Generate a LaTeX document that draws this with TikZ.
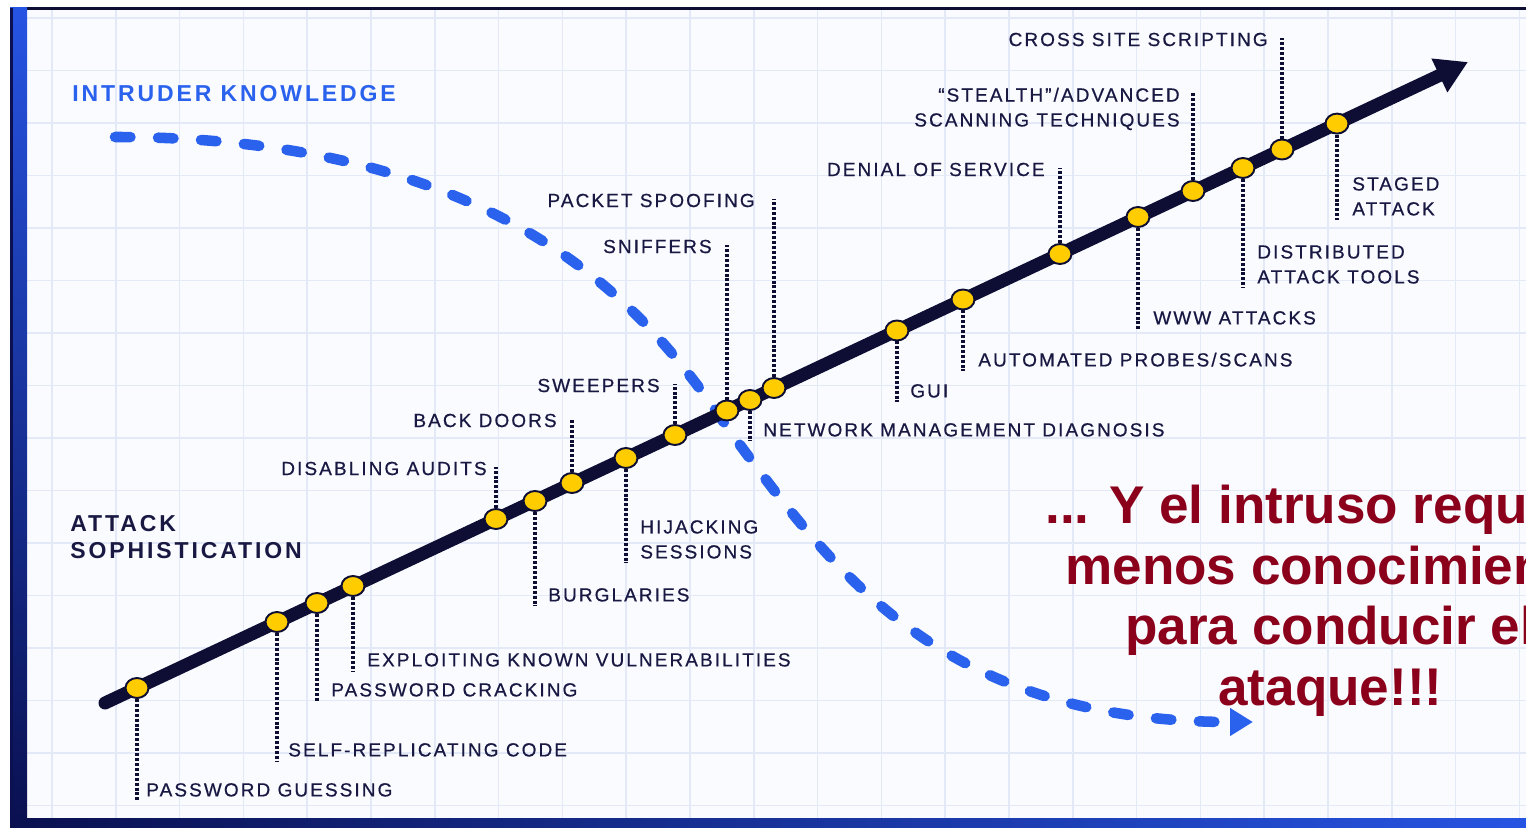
\documentclass[tikz,border=0pt]{standalone}
\usepackage{fontspec}
\setmainfont{Liberation Sans}
\newfontfamily\lblfont[LetterSpace=11, FakeBold=0.6]{Liberation Sans}
\newfontfamily\headfont[LetterSpace=12.5]{Liberation Sans}
\usetikzlibrary{arrows.meta, shapes.geometric}

\definecolor{lineink}{RGB}{14,14,52}
\definecolor{textink}{RGB}{24,24,66}
\definecolor{knowblue}{RGB}{42,98,238}
\definecolor{dotgold}{RGB}{255,204,0}
\definecolor{msgred}{RGB}{139,0,26}
\definecolor{paper}{RGB}{250,251,255}
\definecolor{gridcol}{RGB}{228,233,247}
\definecolor{barblue}{RGB}{38,84,226}
\definecolor{barnavy}{RGB}{10,16,80}

\begin{document}
\begin{tikzpicture}[x=0.02cm, y=-0.02cm,
  lbl/.style={font={\lblfont\fontsize{10.8}{14.2}\selectfont}, text=textink, inner xsep=0pt, inner ysep=2.3pt},
  event/.style={ellipse, draw=lineink, line width=1.1pt, fill=dotgold, minimum width=0.46cm, minimum height=0.4cm, inner sep=0pt},
  leader/.style={draw=lineink, line width=2pt, dash pattern=on 1.7pt off 1.1pt},
  upleader/.style={leader, shorten >=5.5pt},
  axisline/.style={draw=lineink, line width=7.4pt, line cap=round, -{Triangle[length=18pt, width=20pt]}},
  knowcurve/.style={draw=knowblue, line width=6pt, line cap=round, dash pattern=on 8.8pt off 15.7pt, -{Triangle[length=13pt, width=15pt]}},
  msg/.style={anchor=base west, inner sep=0pt, text=msgred, font={\bfseries\fontsize{30.2}{34}\selectfont}}]
\useasboundingbox (0,0) rectangle (1526,828);
\clip (0,0) rectangle (1526,828);

% paper, grid and frame
\fill[paper] (27,10) rectangle (1526,818);
\foreach \gx in {0,...,23}
  \draw[gridcol, line width=1pt] ({52+63.8*\gx},10) -- ({52+63.8*\gx},818);
\foreach \gy in {0,...,15}
  \draw[gridcol, line width=1pt] (27,{18+52.5*\gy}) -- (1526,{18+52.5*\gy});
\fill[lineink] (10,7.5) rectangle (1526,10);
\shade[top color=barblue, bottom color=barnavy] (10,8) rectangle (27,828);
\fill[barnavy] (10,8) rectangle (12.5,828);
\shade[left color=barnavy, right color=barblue] (10,818) rectangle (1526,828);

% intruder knowledge
\draw[knowcurve] (115,137) .. controls (560,137) and (680,364) .. (740,445)
  .. controls (840,580) and (950,722) .. (1253,722);

% attack sophistication
\coordinate (axisstart) at (105,703);
\coordinate (axistip) at (1468,62);
\draw[axisline] (axisstart) -- (axistip);

\node[event] (pwguess) at (137,688) {};
\node[event] (selfrep) at (277,622) {};
\node[event] (pwcrack) at (317,603) {};
\node[event] (exploit) at (353,586) {};
\node[event] (noaudit) at (496,519) {};
\node[event] (burglary) at (535,501) {};
\node[event] (backdoor) at (572,483) {};
\node[event] (hijack) at (626,458) {};
\node[event] (sweep) at (675,435) {};
\node[event] (sniff) at (727,410.5) {};
\node[event] (netdiag) at (750,400) {};
\node[event] (spoof) at (774,388) {};
\node[event] (gui) at (897,330.5) {};
\node[event] (probes) at (963,299.5) {};
\node[event] (dos) at (1060,254) {};
\node[event] (www) at (1138,217) {};
\node[event] (stealth) at (1193,191) {};
\node[event] (ddos) at (1243,168) {};
\node[event] (xss) at (1282,149.5) {};
\node[event] (staged) at (1337,123.6) {};

% labels below the axis
\node[lbl, anchor=south west] (pwguess-t) at (146,801) {PASSWORD GUESSING};
\node[lbl, anchor=south west] (selfrep-t) at (288,761) {SELF-REPLICATING CODE};
\node[lbl, anchor=south west] (pwcrack-t) at (331,701) {PASSWORD CRACKING};
\node[lbl, anchor=south west] (exploit-t) at (367,671) {EXPLOITING KNOWN VULNERABILITIES};
\node[lbl, anchor=south west] (burglary-t) at (548,606) {BURGLARIES};
\node[lbl, anchor=south west, align=left] (hijack-t) at (640,563) {HIJACKING\\SESSIONS};
\node[lbl, anchor=south west] (netdiag-t) at (763,441) {NETWORK MANAGEMENT DIAGNOSIS};
\node[lbl, anchor=south west] (gui-t) at (910,402) {GUI};
\node[lbl, anchor=south west] (probes-t) at (978,371) {AUTOMATED PROBES/SCANS};
\node[lbl, anchor=south west] (www-t) at (1153,329) {WWW ATTACKS};
\node[lbl, anchor=south west, align=left] (ddos-t) at (1257,288) {DISTRIBUTED\\ATTACK TOOLS};
\node[lbl, anchor=south west, align=left] (staged-t) at (1352,220) {STAGED\\ATTACK};

% labels above the axis
\node[lbl, anchor=north east] (noaudit-t) at (487,457.4) {DISABLING AUDITS};
\node[lbl, anchor=north east] (backdoor-t) at (557,409.4) {BACK DOORS};
\node[lbl, anchor=north east] (sweep-t) at (660,374.4) {SWEEPERS};
\node[lbl, anchor=north east] (sniff-t) at (712,235.4) {SNIFFERS};
\node[lbl, anchor=north east] (spoof-t) at (755,189.4) {PACKET SPOOFING};
\node[lbl, anchor=north east] (dos-t) at (1045,158.4) {DENIAL OF SERVICE};
\node[lbl, anchor=north east, align=right] (stealth-t) at (1180,83.4) {“STEALTH”/ADVANCED\\SCANNING TECHNIQUES};
\node[lbl, anchor=north east] (xss-t) at (1268,28.4) {CROSS SITE SCRIPTING};

% leaders
\draw[leader] (pwguess) -- (pwguess |- pwguess-t.south);
\draw[leader] (selfrep) -- (selfrep |- selfrep-t.south);
\draw[leader] (pwcrack) -- (pwcrack |- pwcrack-t.south);
\draw[leader] (exploit) -- (exploit |- exploit-t.south);
\draw[leader] (burglary) -- (burglary |- burglary-t.south);
\draw[leader] (hijack) -- (hijack |- hijack-t.south);
\draw[leader] (netdiag) -- (netdiag |- netdiag-t.south);
\draw[leader] (gui) -- (gui |- gui-t.south);
\draw[leader] (probes) -- (probes |- probes-t.south);
\draw[leader] (www) -- (www |- www-t.south);
\draw[leader] (ddos) -- (ddos |- ddos-t.south);
\draw[leader] (staged) -- (staged |- staged-t.south);
\draw[upleader] (noaudit) -- (noaudit |- noaudit-t.north);
\draw[upleader] (backdoor) -- (backdoor |- backdoor-t.north);
\draw[upleader] (sweep) -- (sweep |- sweep-t.north);
\draw[upleader] (sniff) -- (sniff |- sniff-t.north);
\draw[upleader] (spoof) -- (spoof |- spoof-t.north);
\draw[upleader] (dos) -- (dos |- dos-t.north);
\draw[upleader] (stealth) -- (stealth |- stealth-t.north);
\draw[upleader] (xss) -- (xss |- xss-t.north);

% headings
\node[anchor=base west, inner sep=0pt, text=knowblue, font={\headfont\bfseries\fontsize{13.1}{15}\selectfont}] (knowhead) at (72,102) {INTRUDER KNOWLEDGE};
\node[anchor=north west, inner sep=0pt, align=left, text=textink, font={\headfont\bfseries\fontsize{13.1}{15.4}\selectfont}] (sophhead) at (70,515.5) {ATTACK\\SOPHISTICATION};

% message
\node[msg] (msg1) at (1045,523) {... Y el intruso requ};
\node[msg] (msg2) at (1065,584) {menos conocimien};
\node[msg] (msg3) at (1125,644) {para conducir el};
\node[msg] (msg4) at (1218,705) {ataque!!!};
\end{tikzpicture}
\end{document}
